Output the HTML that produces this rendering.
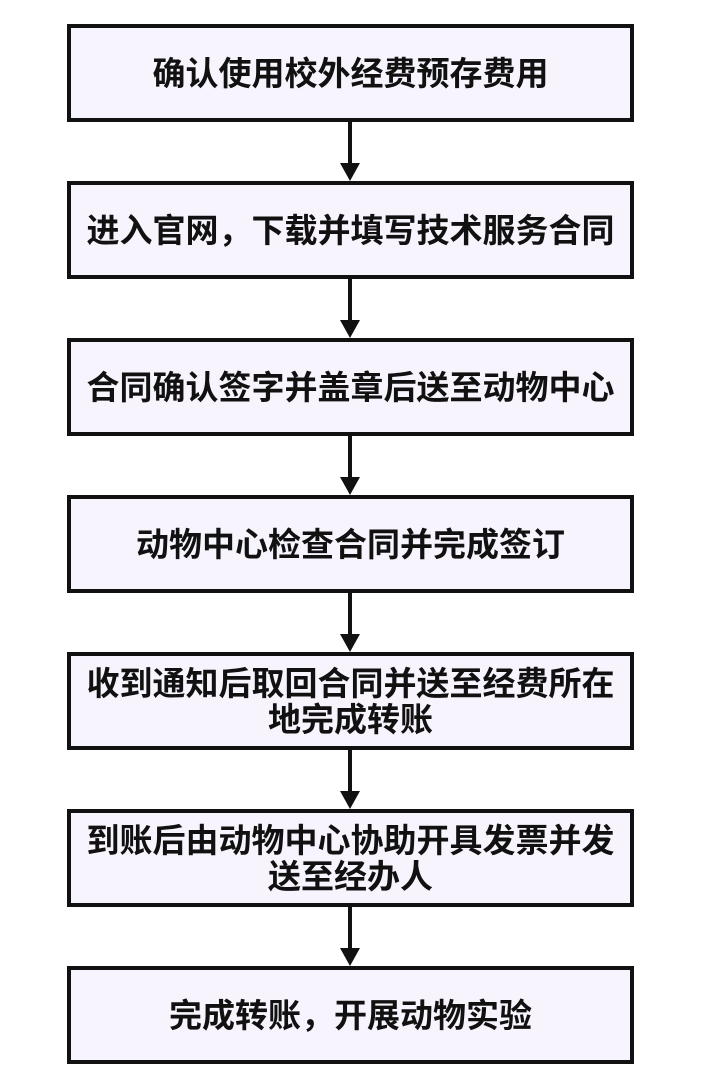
<!DOCTYPE html>
<html><head><meta charset="utf-8"><style>
html,body{margin:0;padding:0;background:#fff;}
body{width:702px;height:1090px;position:relative;overflow:hidden;}
.b{position:absolute;left:67px;width:567px;height:98px;box-sizing:border-box;border:4px solid #111;background:#f8f4fd;display:flex;align-items:center;justify-content:center;text-align:center;font-family:"Liberation Sans","Noto Sans CJK SC",sans-serif;font-weight:700;font-size:33px;line-height:36px;color:#111;padding-top:2px;}
svg{position:absolute;left:0;top:0;}
</style></head><body>
<div class="b" style="top:24px">确认使用校外经费预存费用</div>
<div class="b" style="top:181px">进入官网，下载并填写技术服务合同</div>
<div class="b" style="top:338px">合同确认签字并盖章后送至动物中心</div>
<div class="b" style="top:495px">动物中心检查合同并完成签订</div>
<div class="b" style="top:652px">收到通知后取回合同并送至经费所在<br>地完成转账</div>
<div class="b" style="top:809px">到账后由动物中心协助开具发票并发<br>送至经办人</div>
<div class="b" style="top:966px">完成转账，开展动物实验</div>
<svg width="702" height="1090">
<g fill="#111">
<rect x="348" y="122" width="4" height="42"/><polygon points="340,163 360,163 350,181"/>
<rect x="348" y="279" width="4" height="42"/><polygon points="340,320 360,320 350,338"/>
<rect x="348" y="436" width="4" height="42"/><polygon points="340,477 360,477 350,495"/>
<rect x="348" y="593" width="4" height="42"/><polygon points="340,634 360,634 350,652"/>
<rect x="348" y="750" width="4" height="42"/><polygon points="340,791 360,791 350,809"/>
<rect x="348" y="907" width="4" height="42"/><polygon points="340,948 360,948 350,966"/>
</g>
</svg>
</body></html>
